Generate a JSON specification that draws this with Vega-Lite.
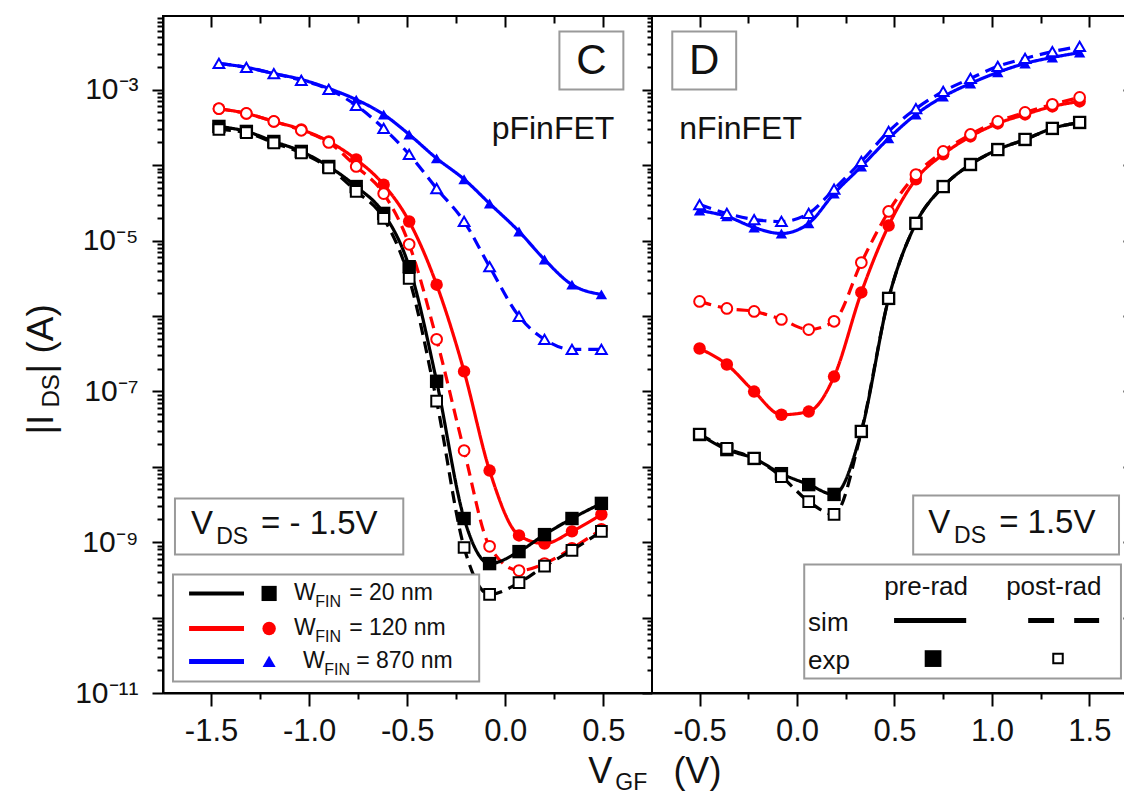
{
"$schema": "https://vega.github.io/schema/vega-lite/v6.json",
"background": "white",
"padding": {"left": 21, "top": 14, "right": 0, "bottom": 0},
"bounds": "flush",
"spacing": 0,
"config": {
 "font": "Liberation Sans",
 "view": {"stroke": "black", "strokeWidth": 2},
 "axis": {"domainColor": "black", "domainWidth": 2, "tickColor": "black", "tickWidth": 2, "labelFont": "Liberation Sans", "labelFontSize": 31, "labelColor": "#111", "grid": false, "labelFlush": false, "labelOverlap": false},
 "text": {"font": "Liberation Sans", "fill": "#111"}
},
"datasets": {"d": [
{"p":"C","w":"870 nm","s":"pre","x":-1.46,"y":2.23e-3},{"p":"C","w":"870 nm","s":"pre","x":-1.32,"y":1.98e-3},{"p":"C","w":"870 nm","s":"pre","x":-1.18,"y":1.64e-3},{"p":"C","w":"870 nm","s":"pre","x":-1.04,"y":1.37e-3},{"p":"C","w":"870 nm","s":"pre","x":-0.90,"y":1.04e-3},{"p":"C","w":"870 nm","s":"pre","x":-0.76,"y":7.4e-4},{"p":"C","w":"870 nm","s":"pre","x":-0.62,"y":4.7e-4},{"p":"C","w":"870 nm","s":"pre","x":-0.49,"y":2.55e-4},{"p":"C","w":"870 nm","s":"pre","x":-0.35,"y":1.23e-4},{"p":"C","w":"870 nm","s":"pre","x":-0.21,"y":6.5e-5},{"p":"C","w":"870 nm","s":"pre","x":-0.08,"y":3.1e-5},{"p":"C","w":"870 nm","s":"pre","x":0.07,"y":1.32e-5},{"p":"C","w":"870 nm","s":"pre","x":0.20,"y":5.6e-6},{"p":"C","w":"870 nm","s":"pre","x":0.34,"y":2.6e-6},{"p":"C","w":"870 nm","s":"pre","x":0.49,"y":1.93e-6},
{"p":"C","w":"870 nm","s":"post","x":-1.46,"y":2.23e-3},{"p":"C","w":"870 nm","s":"post","x":-1.32,"y":1.98e-3},{"p":"C","w":"870 nm","s":"post","x":-1.18,"y":1.64e-3},{"p":"C","w":"870 nm","s":"post","x":-1.04,"y":1.33e-3},{"p":"C","w":"870 nm","s":"post","x":-0.90,"y":1.01e-3},{"p":"C","w":"870 nm","s":"post","x":-0.76,"y":6.2e-4},{"p":"C","w":"870 nm","s":"post","x":-0.62,"y":3.07e-4},{"p":"C","w":"870 nm","s":"post","x":-0.49,"y":1.39e-4},{"p":"C","w":"870 nm","s":"post","x":-0.35,"y":4.9e-5},{"p":"C","w":"870 nm","s":"post","x":-0.21,"y":1.79e-5},{"p":"C","w":"870 nm","s":"post","x":-0.08,"y":4.5e-6},{"p":"C","w":"870 nm","s":"post","x":0.07,"y":9.9e-7},{"p":"C","w":"870 nm","s":"post","x":0.20,"y":4.9e-7},{"p":"C","w":"870 nm","s":"post","x":0.34,"y":3.6e-7},{"p":"C","w":"870 nm","s":"post","x":0.49,"y":3.6e-7},
{"p":"C","w":"120 nm","s":"pre","x":-1.46,"y":5.6e-4},{"p":"C","w":"120 nm","s":"pre","x":-1.32,"y":4.85e-4},{"p":"C","w":"120 nm","s":"pre","x":-1.18,"y":3.8e-4},{"p":"C","w":"120 nm","s":"pre","x":-1.04,"y":2.97e-4},{"p":"C","w":"120 nm","s":"pre","x":-0.90,"y":2.06e-4},{"p":"C","w":"120 nm","s":"pre","x":-0.76,"y":1.19e-4},{"p":"C","w":"120 nm","s":"pre","x":-0.62,"y":5.5e-5},{"p":"C","w":"120 nm","s":"pre","x":-0.49,"y":1.79e-5},{"p":"C","w":"120 nm","s":"pre","x":-0.35,"y":2.6e-6},{"p":"C","w":"120 nm","s":"pre","x":-0.21,"y":1.84e-7},{"p":"C","w":"120 nm","s":"pre","x":-0.08,"y":8.9e-9},{"p":"C","w":"120 nm","s":"pre","x":0.07,"y":1.23e-9},{"p":"C","w":"120 nm","s":"pre","x":0.20,"y":9.6e-10},{"p":"C","w":"120 nm","s":"pre","x":0.34,"y":1.39e-9},{"p":"C","w":"120 nm","s":"pre","x":0.49,"y":2.33e-9},
{"p":"C","w":"120 nm","s":"post","x":-1.46,"y":5.6e-4},{"p":"C","w":"120 nm","s":"post","x":-1.32,"y":4.85e-4},{"p":"C","w":"120 nm","s":"post","x":-1.18,"y":3.8e-4},{"p":"C","w":"120 nm","s":"post","x":-1.04,"y":2.9e-4},{"p":"C","w":"120 nm","s":"post","x":-0.90,"y":2.0e-4},{"p":"C","w":"120 nm","s":"post","x":-0.76,"y":9.6e-5},{"p":"C","w":"120 nm","s":"post","x":-0.62,"y":4.2e-5},{"p":"C","w":"120 nm","s":"post","x":-0.49,"y":8.9e-6},{"p":"C","w":"120 nm","s":"post","x":-0.35,"y":4.9e-7},{"p":"C","w":"120 nm","s":"post","x":-0.21,"y":1.64e-8},{"p":"C","w":"120 nm","s":"post","x":-0.08,"y":8.8e-10},{"p":"C","w":"120 nm","s":"post","x":0.07,"y":4.2e-10},{"p":"C","w":"120 nm","s":"post","x":0.20,"y":5.2e-10},{"p":"C","w":"120 nm","s":"post","x":0.34,"y":8.3e-10},{"p":"C","w":"120 nm","s":"post","x":0.49,"y":1.48e-9},
{"p":"C","w":"20 nm","s":"pre","x":-1.46,"y":3.26e-4},{"p":"C","w":"20 nm","s":"pre","x":-1.32,"y":2.8e-4},{"p":"C","w":"20 nm","s":"pre","x":-1.18,"y":2.06e-4},{"p":"C","w":"20 nm","s":"pre","x":-1.04,"y":1.52e-4},{"p":"C","w":"20 nm","s":"pre","x":-0.90,"y":9.6e-5},{"p":"C","w":"20 nm","s":"pre","x":-0.76,"y":5.2e-5},{"p":"C","w":"20 nm","s":"pre","x":-0.62,"y":2.29e-5},{"p":"C","w":"20 nm","s":"pre","x":-0.49,"y":4.5e-6},{"p":"C","w":"20 nm","s":"pre","x":-0.35,"y":1.36e-7},{"p":"C","w":"20 nm","s":"pre","x":-0.21,"y":2.06e-9},{"p":"C","w":"20 nm","s":"pre","x":-0.08,"y":5.2e-10},{"p":"C","w":"20 nm","s":"pre","x":0.07,"y":7.5e-10},{"p":"C","w":"20 nm","s":"pre","x":0.20,"y":1.26e-9},{"p":"C","w":"20 nm","s":"pre","x":0.34,"y":2.06e-9},{"p":"C","w":"20 nm","s":"pre","x":0.49,"y":3.27e-9},
{"p":"C","w":"20 nm","s":"post","x":-1.46,"y":2.97e-4},{"p":"C","w":"20 nm","s":"post","x":-1.32,"y":2.7e-4},{"p":"C","w":"20 nm","s":"post","x":-1.18,"y":1.97e-4},{"p":"C","w":"20 nm","s":"post","x":-1.04,"y":1.45e-4},{"p":"C","w":"20 nm","s":"post","x":-0.90,"y":9.2e-5},{"p":"C","w":"20 nm","s":"post","x":-0.76,"y":4.5e-5},{"p":"C","w":"20 nm","s":"post","x":-0.62,"y":1.97e-5},{"p":"C","w":"20 nm","s":"post","x":-0.49,"y":3.15e-6},{"p":"C","w":"20 nm","s":"post","x":-0.35,"y":7.4e-8},{"p":"C","w":"20 nm","s":"post","x":-0.21,"y":8.5e-10},{"p":"C","w":"20 nm","s":"post","x":-0.08,"y":2.03e-10},{"p":"C","w":"20 nm","s":"post","x":0.07,"y":2.9e-10},{"p":"C","w":"20 nm","s":"post","x":0.20,"y":4.8e-10},{"p":"C","w":"20 nm","s":"post","x":0.34,"y":7.8e-10},{"p":"C","w":"20 nm","s":"post","x":0.49,"y":1.39e-9},
{"p":"D","w":"870 nm","s":"pre","x":-0.50,"y":2.5e-5},{"p":"D","w":"870 nm","s":"pre","x":-0.36,"y":2.09e-5},{"p":"D","w":"870 nm","s":"pre","x":-0.22,"y":1.49e-5},{"p":"D","w":"870 nm","s":"pre","x":-0.08,"y":1.24e-5},{"p":"D","w":"870 nm","s":"pre","x":0.06,"y":1.69e-5},{"p":"D","w":"870 nm","s":"pre","x":0.19,"y":4.2e-5},{"p":"D","w":"870 nm","s":"pre","x":0.33,"y":9.6e-5},{"p":"D","w":"870 nm","s":"pre","x":0.47,"y":2.26e-4},{"p":"D","w":"870 nm","s":"pre","x":0.61,"y":4.7e-4},{"p":"D","w":"870 nm","s":"pre","x":0.75,"y":8.1e-4},{"p":"D","w":"870 nm","s":"pre","x":0.89,"y":1.21e-3},{"p":"D","w":"870 nm","s":"pre","x":1.03,"y":1.7e-3},{"p":"D","w":"870 nm","s":"pre","x":1.17,"y":2.23e-3},{"p":"D","w":"870 nm","s":"pre","x":1.31,"y":2.68e-3},{"p":"D","w":"870 nm","s":"pre","x":1.45,"y":3.1e-3},
{"p":"D","w":"870 nm","s":"post","x":-0.50,"y":3.0e-5},{"p":"D","w":"870 nm","s":"post","x":-0.36,"y":2.29e-5},{"p":"D","w":"870 nm","s":"post","x":-0.22,"y":1.9e-5},{"p":"D","w":"870 nm","s":"post","x":-0.08,"y":1.79e-5},{"p":"D","w":"870 nm","s":"post","x":0.06,"y":2.29e-5},{"p":"D","w":"870 nm","s":"post","x":0.19,"y":4.8e-5},{"p":"D","w":"870 nm","s":"post","x":0.33,"y":1.12e-4},{"p":"D","w":"870 nm","s":"post","x":0.47,"y":2.8e-4},{"p":"D","w":"870 nm","s":"post","x":0.61,"y":5.6e-4},{"p":"D","w":"870 nm","s":"post","x":0.75,"y":9.5e-4},{"p":"D","w":"870 nm","s":"post","x":0.89,"y":1.41e-3},{"p":"D","w":"870 nm","s":"post","x":1.03,"y":2.04e-3},{"p":"D","w":"870 nm","s":"post","x":1.17,"y":2.6e-3},{"p":"D","w":"870 nm","s":"post","x":1.31,"y":3.2e-3},{"p":"D","w":"870 nm","s":"post","x":1.45,"y":3.75e-3},
{"p":"D","w":"120 nm","s":"pre","x":-0.50,"y":3.7e-7},{"p":"D","w":"120 nm","s":"pre","x":-0.36,"y":2.27e-7},{"p":"D","w":"120 nm","s":"pre","x":-0.22,"y":9.95e-8},{"p":"D","w":"120 nm","s":"pre","x":-0.08,"y":4.9e-8},{"p":"D","w":"120 nm","s":"pre","x":0.06,"y":5.4e-8},{"p":"D","w":"120 nm","s":"pre","x":0.19,"y":1.57e-7},{"p":"D","w":"120 nm","s":"pre","x":0.33,"y":2.05e-6},{"p":"D","w":"120 nm","s":"pre","x":0.47,"y":1.58e-5},{"p":"D","w":"120 nm","s":"pre","x":0.61,"y":6.5e-5},{"p":"D","w":"120 nm","s":"pre","x":0.75,"y":1.39e-4},{"p":"D","w":"120 nm","s":"pre","x":0.89,"y":2.4e-4},{"p":"D","w":"120 nm","s":"pre","x":1.03,"y":3.57e-4},{"p":"D","w":"120 nm","s":"pre","x":1.17,"y":4.7e-4},{"p":"D","w":"120 nm","s":"pre","x":1.31,"y":6.0e-4},{"p":"D","w":"120 nm","s":"pre","x":1.45,"y":7.0e-4},
{"p":"D","w":"120 nm","s":"post","x":-0.50,"y":1.56e-6},{"p":"D","w":"120 nm","s":"post","x":-0.36,"y":1.26e-6},{"p":"D","w":"120 nm","s":"post","x":-0.22,"y":1.15e-6},{"p":"D","w":"120 nm","s":"post","x":-0.08,"y":9.0e-7},{"p":"D","w":"120 nm","s":"post","x":0.06,"y":6.6e-7},{"p":"D","w":"120 nm","s":"post","x":0.19,"y":8.5e-7},{"p":"D","w":"120 nm","s":"post","x":0.33,"y":5.1e-6},{"p":"D","w":"120 nm","s":"post","x":0.47,"y":2.43e-5},{"p":"D","w":"120 nm","s":"post","x":0.61,"y":7.5e-5},{"p":"D","w":"120 nm","s":"post","x":0.75,"y":1.52e-4},{"p":"D","w":"120 nm","s":"post","x":0.89,"y":2.55e-4},{"p":"D","w":"120 nm","s":"post","x":1.03,"y":3.8e-4},{"p":"D","w":"120 nm","s":"post","x":1.17,"y":5.0e-4},{"p":"D","w":"120 nm","s":"post","x":1.31,"y":6.4e-4},{"p":"D","w":"120 nm","s":"post","x":1.45,"y":7.9e-4},
{"p":"D","w":"20 nm","s":"pre","x":-0.50,"y":2.68e-8},{"p":"D","w":"20 nm","s":"pre","x":-0.36,"y":1.69e-8},{"p":"D","w":"20 nm","s":"pre","x":-0.22,"y":1.29e-8},{"p":"D","w":"20 nm","s":"pre","x":-0.08,"y":8.1e-9},{"p":"D","w":"20 nm","s":"pre","x":0.06,"y":5.8e-9},{"p":"D","w":"20 nm","s":"pre","x":0.19,"y":4.3e-9},{"p":"D","w":"20 nm","s":"pre","x":0.33,"y":2.94e-8},{"p":"D","w":"20 nm","s":"pre","x":0.47,"y":1.71e-6},{"p":"D","w":"20 nm","s":"pre","x":0.61,"y":1.69e-5},{"p":"D","w":"20 nm","s":"pre","x":0.75,"y":5.2e-5},{"p":"D","w":"20 nm","s":"pre","x":0.89,"y":1.02e-4},{"p":"D","w":"20 nm","s":"pre","x":1.03,"y":1.61e-4},{"p":"D","w":"20 nm","s":"pre","x":1.17,"y":2.19e-4},{"p":"D","w":"20 nm","s":"pre","x":1.31,"y":3.07e-4},{"p":"D","w":"20 nm","s":"pre","x":1.45,"y":3.68e-4},
{"p":"D","w":"20 nm","s":"post","x":-0.50,"y":2.7e-8},{"p":"D","w":"20 nm","s":"post","x":-0.36,"y":1.75e-8},{"p":"D","w":"20 nm","s":"post","x":-0.22,"y":1.29e-8},{"p":"D","w":"20 nm","s":"post","x":-0.08,"y":7.4e-9},{"p":"D","w":"20 nm","s":"post","x":0.06,"y":3.46e-9},{"p":"D","w":"20 nm","s":"post","x":0.19,"y":2.33e-9},{"p":"D","w":"20 nm","s":"post","x":0.33,"y":2.94e-8},{"p":"D","w":"20 nm","s":"post","x":0.47,"y":1.71e-6},{"p":"D","w":"20 nm","s":"post","x":0.61,"y":1.69e-5},{"p":"D","w":"20 nm","s":"post","x":0.75,"y":5.2e-5},{"p":"D","w":"20 nm","s":"post","x":0.89,"y":1.02e-4},{"p":"D","w":"20 nm","s":"post","x":1.03,"y":1.61e-4},{"p":"D","w":"20 nm","s":"post","x":1.17,"y":2.19e-4},{"p":"D","w":"20 nm","s":"post","x":1.31,"y":3.07e-4},{"p":"D","w":"20 nm","s":"post","x":1.45,"y":3.68e-4}
]},
"hconcat": [
{
 "width": 489, "height": 677,
 "resolve": {"axis": {"x": "independent", "y": "independent"}},
 "layer": [
  {"data": {"name": "d"}, "transform": [{"filter": "datum.p == 'C'"}],
   "mark": {"type": "line", "interpolate": "monotone", "strokeWidth": 3.2},
   "encoding": {
    "x": {"field": "x", "type": "quantitative", "scale": {"domain": [-1.745, 0.748], "nice": false, "zero": false},
      "axis": {"orient": "bottom", "title": null, "values": [-1.5,-1.25,-1,-0.75,-0.5,-0.25,0,0.25,0.5], "labelExpr": "abs(datum.value*2-round(datum.value*2))<0.01 ? replace(format(datum.value,'.1f'),'−','-') : ''", "tickSize": {"condition": {"test": "abs(datum.value*2-round(datum.value*2))<0.01", "value": 13}, "value": 6}, "labelPadding": 10}},
    "y": {"field": "y", "type": "quantitative", "scale": {"type": "log", "domain": [1e-11, 9.5e-3], "nice": false},
      "axis": {"orient": "left", "title": null, "values": [1e-11,2e-11,3e-11,4e-11,5e-11,6e-11,7e-11,8e-11,9e-11,1e-10,2e-10,3e-10,4e-10,5e-10,6e-10,7e-10,8e-10,9e-10,1e-9,2e-9,3e-9,4e-9,5e-9,6e-9,7e-9,8e-9,9e-9,1e-8,2e-8,3e-8,4e-8,5e-8,6e-8,7e-8,8e-8,9e-8,1e-7,2e-7,3e-7,4e-7,5e-7,6e-7,7e-7,8e-7,9e-7,1e-6,2e-6,3e-6,4e-6,5e-6,6e-6,7e-6,8e-6,9e-6,1e-5,2e-5,3e-5,4e-5,5e-5,6e-5,7e-5,8e-5,9e-5,1e-4,2e-4,3e-4,4e-4,5e-4,6e-4,7e-4,8e-4,9e-4,1e-3,2e-3,3e-3,4e-3,5e-3,6e-3,7e-3,8e-3,9e-3],
       "labelExpr": "datum.value == 1e-3 ? '10⁻³' : datum.value == 1e-5 ? '10⁻⁵' : datum.value == 1e-7 ? '10⁻⁷' : datum.value == 1e-9 ? '10⁻⁹' : datum.value == 1e-11 ? '10⁻¹¹' : ''",
       "labelFontSize": {"condition": {"test": "datum.value == 1e-3 || datum.value == 1e-5 || datum.value == 1e-7 || datum.value == 1e-9 || datum.value == 1e-11", "value": 30}, "value": 0},
       "tickSize": {"condition": {"test": "abs(log(datum.value)/LN10 - round(log(datum.value)/LN10)) < 0.001", "value": 11}, "value": 6}, "labelPadding": 14}},
    "color": {"field": "w", "type": "nominal", "scale": {"domain": ["20 nm", "120 nm", "870 nm"], "range": ["#000000", "#ff0000", "#0000ff"]}, "legend": null},
    "strokeDash": {"field": "s", "type": "nominal", "scale": {"domain": ["pre", "post"], "range": [[1, 0], [12, 7]]}, "legend": null}
   }},
  {"data": {"name": "d"}, "transform": [{"filter": "datum.p == 'C' && datum.s == 'pre'"}],
   "mark": {"type": "point", "filled": true, "opacity": 1},
   "encoding": {
    "x": {"field": "x", "type": "quantitative", "axis": {"orient": "top", "title": null, "labels": false, "domain": false, "values": [-1.5,-1.25,-1,-0.75,-0.5,-0.25,0,0.25,0.5], "tickSize": {"condition": {"test": "abs(datum.value*2-round(datum.value*2))<0.01", "value": -11}, "value": -7}}},
    "y": {"field": "y", "type": "quantitative", "axis": {"orient": "right", "title": null, "labels": false, "domain": false, "values": [1e-11,2e-11,3e-11,4e-11,5e-11,6e-11,7e-11,8e-11,9e-11,1e-10,2e-10,3e-10,4e-10,5e-10,6e-10,7e-10,8e-10,9e-10,1e-9,2e-9,3e-9,4e-9,5e-9,6e-9,7e-9,8e-9,9e-9,1e-8,2e-8,3e-8,4e-8,5e-8,6e-8,7e-8,8e-8,9e-8,1e-7,2e-7,3e-7,4e-7,5e-7,6e-7,7e-7,8e-7,9e-7,1e-6,2e-6,3e-6,4e-6,5e-6,6e-6,7e-6,8e-6,9e-6,1e-5,2e-5,3e-5,4e-5,5e-5,6e-5,7e-5,8e-5,9e-5,1e-4,2e-4,3e-4,4e-4,5e-4,6e-4,7e-4,8e-4,9e-4,1e-3,2e-3,3e-3,4e-3,5e-3,6e-3,7e-3,8e-3,9e-3], "tickSize": {"condition": {"test": "abs(log(datum.value)/LN10 - round(log(datum.value)/LN10)) < 0.001", "value": -10}, "value": -5}}},
    "color": {"field": "w", "type": "nominal", "legend": null},
    "shape": {"field": "w", "type": "nominal", "scale": {"domain": ["20 nm", "120 nm", "870 nm"], "range": ["square", "circle", "triangle-up"]}, "legend": null},
    "size": {"field": "w", "type": "nominal", "scale": {"domain": ["20 nm", "120 nm", "870 nm"], "range": [180, 130, 160]}, "legend": null}
   }},
  {"data": {"name": "d"}, "transform": [{"filter": "datum.p == 'C' && datum.s == 'post'"}],
   "mark": {"type": "point", "filled": false, "fill": "white", "fillOpacity": 1, "strokeWidth": 2, "size": 115, "opacity": 1},
   "encoding": {
    "x": {"field": "x", "type": "quantitative", "axis": null},
    "y": {"field": "y", "type": "quantitative", "axis": null},
    "color": {"field": "w", "type": "nominal", "legend": null},
    "shape": {"field": "w", "type": "nominal", "legend": null}
   }},
  {"data": {"values": [{}]}, "mark": {"type": "rect", "fill": "white", "stroke": "#9a9a9a", "strokeWidth": 2},
   "encoding": {"x": {"datum": 0.276, "axis": null}, "x2": {"datum": 0.602}, "y": {"datum": 5.93e-3, "axis": null}, "y2": {"datum": 1.01e-3}}},
  {"data": {"values": [{}]}, "mark": {"type": "text", "text": "C", "fontSize": 42, "align": "center", "baseline": "middle"},
   "encoding": {"x": {"datum": 0.439, "axis": null}, "y": {"datum": 2.37e-3, "axis": null}}},
  {"data": {"values": [{}]}, "mark": {"type": "text", "text": "pFinFET", "fontSize": 32, "align": "right", "baseline": "alphabetic"},
   "encoding": {"x": {"datum": 0.556, "axis": null}, "y": {"datum": 2.19e-4, "axis": null}}},
  {"data": {"values": [{}]}, "mark": {"type": "rect", "fill": "white", "stroke": "#9a9a9a", "strokeWidth": 2},
   "encoding": {"x": {"datum": -1.684, "axis": null}, "x2": {"datum": -0.520}, "y": {"datum": 3.8e-9, "axis": null}, "y2": {"datum": 6.87e-10}}},
  {"data": {"values": [{}]}, "mark": {"type": "text", "text": "V", "fontSize": 33, "align": "left", "baseline": "alphabetic"},
   "encoding": {"x": {"datum": -1.602, "axis": null}, "y": {"datum": 1.27e-9, "axis": null}}},
  {"data": {"values": [{}]}, "mark": {"type": "text", "text": "DS", "fontSize": 23, "align": "left", "baseline": "alphabetic"},
   "encoding": {"x": {"datum": -1.474, "axis": null}, "y": {"datum": 9.6e-10, "axis": null}}},
  {"data": {"values": [{}]}, "mark": {"type": "text", "text": "= - 1.5V", "fontSize": 33, "align": "left", "baseline": "alphabetic"},
   "encoding": {"x": {"datum": -1.245, "axis": null}, "y": {"datum": 1.27e-9, "axis": null}}},
  {"data": {"values": [{}]}, "mark": {"type": "rect", "fill": "white", "stroke": "#9a9a9a", "strokeWidth": 2},
   "encoding": {"x": {"datum": -1.694, "axis": null}, "x2": {"datum": -0.133}, "y": {"datum": 3.73e-10, "axis": null}, "y2": {"datum": 1.42e-11}}},
  {"data": {"values": [{}]}, "mark": {"type": "rule", "stroke": "#000000", "strokeWidth": 4},
   "encoding": {"x": {"datum": -1.612, "axis": null}, "x2": {"datum": -1.332}, "y": {"datum": 2.09e-10, "axis": null}}},
  {"data": {"values": [{}]}, "mark": {"type": "rule", "stroke": "#ff0000", "strokeWidth": 5},
   "encoding": {"x": {"datum": -1.612, "axis": null}, "x2": {"datum": -1.332}, "y": {"datum": 7.18e-11, "axis": null}}},
  {"data": {"values": [{}]}, "mark": {"type": "rule", "stroke": "#0000ff", "strokeWidth": 5},
   "encoding": {"x": {"datum": -1.612, "axis": null}, "x2": {"datum": -1.332}, "y": {"datum": 2.62e-11, "axis": null}}},
  {"data": {"values": [{}]}, "mark": {"type": "point", "shape": "square", "filled": true, "color": "#000000", "size": 230, "opacity": 1},
   "encoding": {"x": {"datum": -1.204, "axis": null}, "y": {"datum": 2.09e-10, "axis": null}}},
  {"data": {"values": [{}]}, "mark": {"type": "point", "shape": "circle", "filled": true, "color": "#ff0000", "size": 180, "opacity": 1},
   "encoding": {"x": {"datum": -1.204, "axis": null}, "y": {"datum": 7.18e-11, "axis": null}}},
  {"data": {"values": [{}]}, "mark": {"type": "point", "shape": "triangle-up", "filled": true, "color": "#0000ff", "size": 170, "opacity": 1},
   "encoding": {"x": {"datum": -1.204, "axis": null}, "y": {"datum": 2.62e-11, "axis": null}}},
  {"data": {"values": [{}]}, "mark": {"type": "text", "text": "W", "fontSize": 23, "align": "left", "baseline": "middle"},
   "encoding": {"x": {"datum": -1.077, "axis": null}, "y": {"datum": 2.09e-10, "axis": null}}},
  {"data": {"values": [{}]}, "mark": {"type": "text", "text": "FIN", "fontSize": 16, "align": "left", "baseline": "middle", "dy": 9},
   "encoding": {"x": {"datum": -0.969, "axis": null}, "y": {"datum": 2.09e-10, "axis": null}}},
  {"data": {"values": [{}]}, "mark": {"type": "text", "text": "= 20 nm", "fontSize": 23, "align": "left", "baseline": "middle"},
   "encoding": {"x": {"datum": -0.796, "axis": null}, "y": {"datum": 2.09e-10, "axis": null}}},
  {"data": {"values": [{}]}, "mark": {"type": "text", "text": "W", "fontSize": 23, "align": "left", "baseline": "middle"},
   "encoding": {"x": {"datum": -1.077, "axis": null}, "y": {"datum": 7.18e-11, "axis": null}}},
  {"data": {"values": [{}]}, "mark": {"type": "text", "text": "FIN", "fontSize": 16, "align": "left", "baseline": "middle", "dy": 9},
   "encoding": {"x": {"datum": -0.969, "axis": null}, "y": {"datum": 7.18e-11, "axis": null}}},
  {"data": {"values": [{}]}, "mark": {"type": "text", "text": "= 120 nm", "fontSize": 23, "align": "left", "baseline": "middle"},
   "encoding": {"x": {"datum": -0.796, "axis": null}, "y": {"datum": 7.18e-11, "axis": null}}},
  {"data": {"values": [{}]}, "mark": {"type": "text", "text": "W", "fontSize": 23, "align": "left", "baseline": "middle"},
   "encoding": {"x": {"datum": -1.031, "axis": null}, "y": {"datum": 2.62e-11, "axis": null}}},
  {"data": {"values": [{}]}, "mark": {"type": "text", "text": "FIN", "fontSize": 16, "align": "left", "baseline": "middle", "dy": 9},
   "encoding": {"x": {"datum": -0.923, "axis": null}, "y": {"datum": 2.62e-11, "axis": null}}},
  {"data": {"values": [{}]}, "mark": {"type": "text", "text": "= 870 nm", "fontSize": 23, "align": "left", "baseline": "middle"},
   "encoding": {"x": {"datum": -0.760, "axis": null}, "y": {"datum": 2.62e-11, "axis": null}}},
  {"data": {"values": [{}]}, "mark": {"type": "text", "text": "|I", "fontSize": 37, "angle": 270, "align": "left", "baseline": "alphabetic"},
   "encoding": {"x": {"datum": -2.306, "axis": null}, "y": {"datum": 2.68e-8, "axis": null}}},
  {"data": {"values": [{}]}, "mark": {"type": "text", "text": "DS", "fontSize": 24, "angle": 270, "align": "left", "baseline": "alphabetic"},
   "encoding": {"x": {"datum": -2.276, "axis": null}, "y": {"datum": 6.1e-8, "axis": null}}},
  {"data": {"values": [{}]}, "mark": {"type": "text", "text": "| (A)", "fontSize": 37, "angle": 270, "align": "left", "baseline": "alphabetic"},
   "encoding": {"x": {"datum": -2.306, "axis": null}, "y": {"datum": 1.73e-7, "axis": null}}},
  {"data": {"values": [{}]}, "mark": {"type": "text", "text": "V", "fontSize": 36, "align": "left", "baseline": "alphabetic"},
   "encoding": {"x": {"datum": 0.423, "axis": null}, "y": {"datum": 6.5e-13, "axis": null}}},
  {"data": {"values": [{}]}, "mark": {"type": "text", "text": "GF", "fontSize": 23, "align": "left", "baseline": "alphabetic"},
   "encoding": {"x": {"datum": 0.561, "axis": null}, "y": {"datum": 5.1e-13, "axis": null}}},
  {"data": {"values": [{}]}, "mark": {"type": "text", "text": "(V)", "fontSize": 36, "align": "left", "baseline": "alphabetic"},
   "encoding": {"x": {"datum": 0.857, "axis": null}, "y": {"datum": 6.5e-13, "axis": null}}}
 ]
},
{
 "width": 475, "height": 677,
 "resolve": {"axis": {"x": "independent", "y": "independent"}},
 "layer": [
  {"data": {"name": "d"}, "transform": [{"filter": "datum.p == 'D'"}],
   "mark": {"type": "line", "interpolate": "monotone", "strokeWidth": 3.2},
   "encoding": {
    "x": {"field": "x", "type": "quantitative", "scale": {"domain": [-0.744, 1.693], "nice": false, "zero": false},
      "axis": {"orient": "bottom", "title": null, "values": [-0.5,-0.25,0,0.25,0.5,0.75,1,1.25,1.5], "labelExpr": "abs(datum.value*2-round(datum.value*2))<0.01 ? replace(format(datum.value,'.1f'),'−','-') : ''", "tickSize": {"condition": {"test": "abs(datum.value*2-round(datum.value*2))<0.01", "value": 13}, "value": 6}, "labelPadding": 10}},
    "y": {"field": "y", "type": "quantitative", "scale": {"type": "log", "domain": [1e-11, 9.5e-3], "nice": false},
      "axis": {"orient": "right", "title": null, "labels": false, "domain": false, "values": [1e-11,1e-10,1e-9,1e-8,1e-7,1e-6,1e-5,1e-4,1e-3], "tickSize": -4}},
    "color": {"field": "w", "type": "nominal", "scale": {"domain": ["20 nm", "120 nm", "870 nm"], "range": ["#000000", "#ff0000", "#0000ff"]}, "legend": null},
    "strokeDash": {"field": "s", "type": "nominal", "scale": {"domain": ["pre", "post"], "range": [[1, 0], [12, 7]]}, "legend": null}
   }},
  {"data": {"name": "d"}, "transform": [{"filter": "datum.p == 'D' && datum.s == 'pre'"}],
   "mark": {"type": "point", "filled": true, "opacity": 1},
   "encoding": {
    "x": {"field": "x", "type": "quantitative", "axis": {"orient": "top", "title": null, "labels": false, "domain": false, "values": [-0.5,-0.25,0,0.25,0.5,0.75,1,1.25,1.5], "tickSize": {"condition": {"test": "abs(datum.value*2-round(datum.value*2))<0.01", "value": -11}, "value": -7}}},
    "y": {"field": "y", "type": "quantitative", "axis": null},
    "color": {"field": "w", "type": "nominal", "legend": null},
    "shape": {"field": "w", "type": "nominal", "scale": {"domain": ["20 nm", "120 nm", "870 nm"], "range": ["square", "circle", "triangle-up"]}, "legend": null},
    "size": {"field": "w", "type": "nominal", "scale": {"domain": ["20 nm", "120 nm", "870 nm"], "range": [180, 130, 160]}, "legend": null}
   }},
  {"data": {"name": "d"}, "transform": [{"filter": "datum.p == 'D' && datum.s == 'post'"}],
   "mark": {"type": "point", "filled": false, "fill": "white", "fillOpacity": 1, "strokeWidth": 2, "size": 115, "opacity": 1},
   "encoding": {
    "x": {"field": "x", "type": "quantitative", "axis": null},
    "y": {"field": "y", "type": "quantitative", "axis": null},
    "color": {"field": "w", "type": "nominal", "legend": null},
    "shape": {"field": "w", "type": "nominal", "legend": null}
   }},
  {"data": {"values": [{}]}, "mark": {"type": "rect", "fill": "white", "stroke": "#9a9a9a", "strokeWidth": 2},
   "encoding": {"x": {"datum": -0.640, "axis": null}, "x2": {"datum": -0.312}, "y": {"datum": 5.93e-3, "axis": null}, "y2": {"datum": 1.01e-3}}},
  {"data": {"values": [{}]}, "mark": {"type": "text", "text": "D", "fontSize": 42, "align": "center", "baseline": "middle"},
   "encoding": {"x": {"datum": -0.476, "axis": null}, "y": {"datum": 2.37e-3, "axis": null}}},
  {"data": {"values": [{}]}, "mark": {"type": "text", "text": "nFinFET", "fontSize": 32, "align": "left", "baseline": "alphabetic"},
   "encoding": {"x": {"datum": -0.604, "axis": null}, "y": {"datum": 2.19e-4, "axis": null}}},
  {"data": {"values": [{}]}, "mark": {"type": "rect", "fill": "white", "stroke": "#9a9a9a", "strokeWidth": 2},
   "encoding": {"x": {"datum": 0.596, "axis": null}, "x2": {"datum": 1.652}, "y": {"datum": 4.16e-9, "axis": null}, "y2": {"datum": 6.87e-10}}},
  {"data": {"values": [{}]}, "mark": {"type": "text", "text": "V", "fontSize": 33, "align": "left", "baseline": "alphabetic"},
   "encoding": {"x": {"datum": 0.673, "axis": null}, "y": {"datum": 1.31e-9, "axis": null}}},
  {"data": {"values": [{}]}, "mark": {"type": "text", "text": "DS", "fontSize": 23, "align": "left", "baseline": "alphabetic"},
   "encoding": {"x": {"datum": 0.806, "axis": null}, "y": {"datum": 9.9e-10, "axis": null}}},
  {"data": {"values": [{}]}, "mark": {"type": "text", "text": "= 1.5V", "fontSize": 33, "align": "left", "baseline": "alphabetic"},
   "encoding": {"x": {"datum": 1.037, "axis": null}, "y": {"datum": 1.31e-9, "axis": null}}},
  {"data": {"values": [{}]}, "mark": {"type": "rect", "fill": "white", "stroke": "#9a9a9a", "strokeWidth": 2},
   "encoding": {"x": {"datum": 0.037, "axis": null}, "x2": {"datum": 1.662}, "y": {"datum": 5.06e-10, "axis": null}, "y2": {"datum": 1.56e-11}}},
  {"data": {"values": [{}]}, "mark": {"type": "text", "text": "pre-rad", "fontSize": 26, "align": "left", "baseline": "alphabetic"},
   "encoding": {"x": {"datum": 0.447, "axis": null}, "y": {"datum": 2.02e-10, "axis": null}}},
  {"data": {"values": [{}]}, "mark": {"type": "text", "text": "post-rad", "fontSize": 26, "align": "left", "baseline": "alphabetic"},
   "encoding": {"x": {"datum": 1.073, "axis": null}, "y": {"datum": 2.02e-10, "axis": null}}},
  {"data": {"values": [{}]}, "mark": {"type": "text", "text": "sim", "fontSize": 26, "align": "left", "baseline": "alphabetic"},
   "encoding": {"x": {"datum": 0.057, "axis": null}, "y": {"datum": 6.54e-11, "axis": null}}},
  {"data": {"values": [{}]}, "mark": {"type": "text", "text": "exp", "fontSize": 26, "align": "left", "baseline": "alphabetic"},
   "encoding": {"x": {"datum": 0.057, "axis": null}, "y": {"datum": 2.11e-11, "axis": null}}},
  {"data": {"values": [{}]}, "mark": {"type": "rule", "stroke": "#000000", "strokeWidth": 5},
   "encoding": {"x": {"datum": 0.498, "axis": null}, "x2": {"datum": 0.868}, "y": {"datum": 9.15e-11, "axis": null}}},
  {"data": {"values": [{}]}, "mark": {"type": "rule", "stroke": "#000000", "strokeWidth": 5},
   "encoding": {"x": {"datum": 1.186, "axis": null}, "x2": {"datum": 1.319}, "y": {"datum": 9.15e-11, "axis": null}}},
  {"data": {"values": [{}]}, "mark": {"type": "rule", "stroke": "#000000", "strokeWidth": 5},
   "encoding": {"x": {"datum": 1.422, "axis": null}, "x2": {"datum": 1.550}, "y": {"datum": 9.15e-11, "axis": null}}},
  {"data": {"values": [{}]}, "mark": {"type": "point", "shape": "square", "filled": true, "color": "#000000", "size": 280, "opacity": 1},
   "encoding": {"x": {"datum": 0.698, "axis": null}, "y": {"datum": 2.86e-11, "axis": null}}},
  {"data": {"values": [{}]}, "mark": {"type": "point", "shape": "square", "filled": false, "fill": "white", "color": "#000000", "strokeWidth": 2, "size": 90, "opacity": 1},
   "encoding": {"x": {"datum": 1.339, "axis": null}, "y": {"datum": 2.86e-11, "axis": null}}}
 ]
}
]
}
